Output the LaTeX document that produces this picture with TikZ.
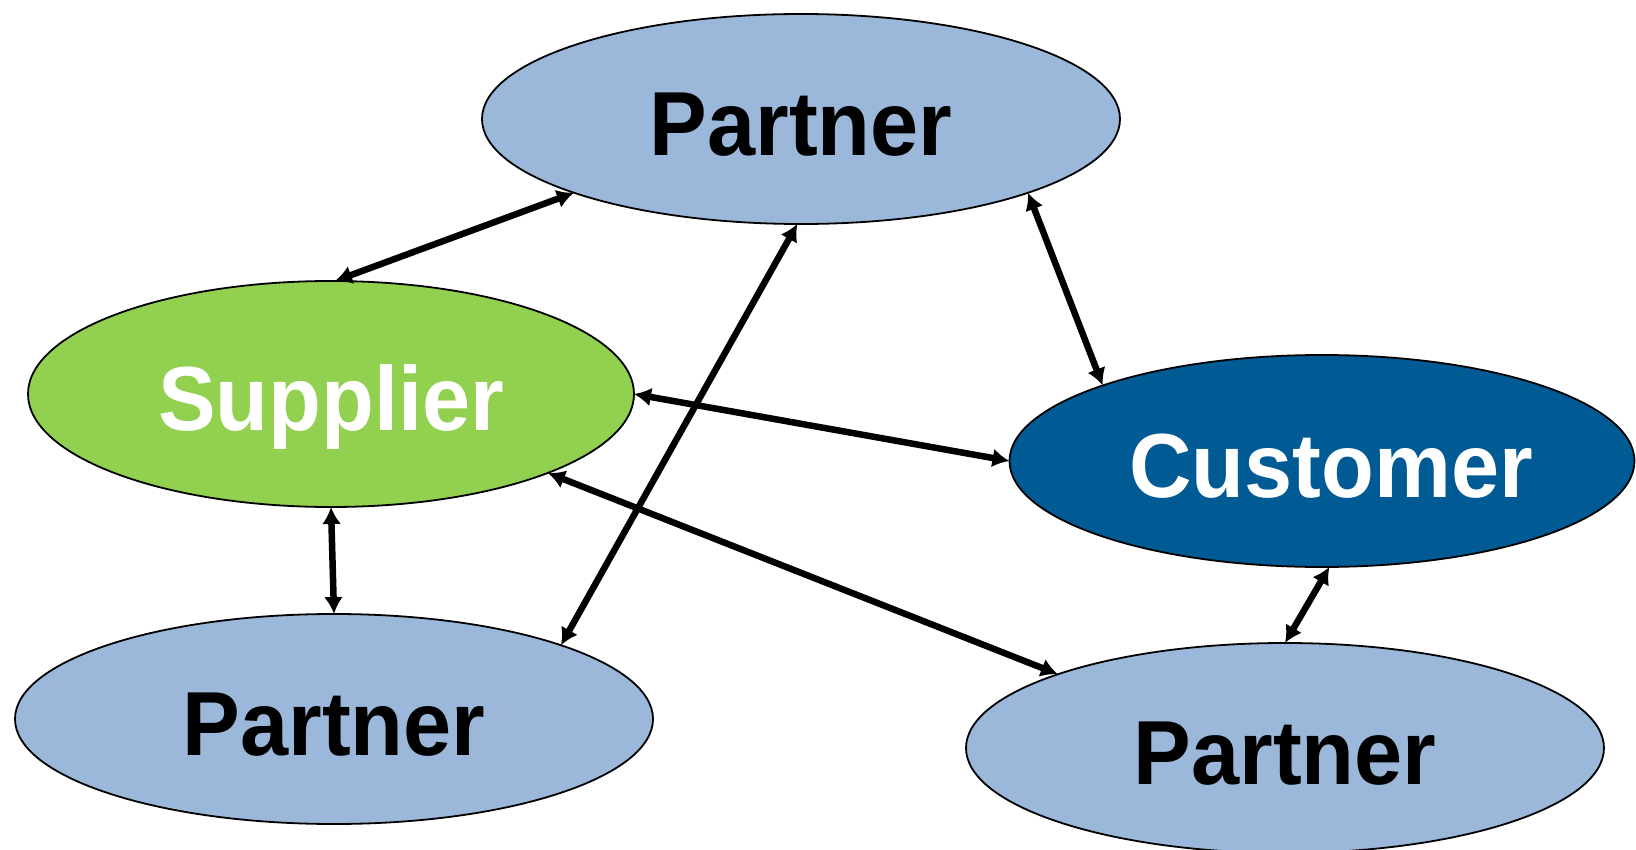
\documentclass[tikz,border=0pt]{standalone}
\usepackage{fontspec}
\setmainfont{Liberation Sans}[FakeStretch=0.95]
\usetikzlibrary{arrows.meta,shapes.geometric}

\definecolor{partnerblue}{HTML}{9BB7D9}
\definecolor{suppliergreen}{HTML}{92D050}
\definecolor{customerblue}{HTML}{005A94}

\begin{document}
\begin{tikzpicture}[x=1pt, y=-1pt,
        party/.style={ellipse, draw=black, line width=1.8pt, inner sep=0pt, outer sep=0pt,
            font=\bfseries\fontsize{91}{91}\selectfont, text height=73pt, text depth=0pt},
        partner/.style={party, fill=partnerblue, text=black, minimum width=638pt, minimum height=210pt},
        link/.style={line width=6.5pt, {Latex[length=17pt,width=19pt]}-{Latex[length=17pt,width=19pt]}}]
        \useasboundingbox (0,0) rectangle (1636,850);

        % Ellipses for supplier, customer and the partners
        \node[partner] (toppartner) at (801,119) {Partner};
        \node[party, fill=suppliergreen, text=white, minimum width=606pt, minimum height=226pt] (supplier) at (331,394) {Supplier};
        \node[party, fill=customerblue, text=white, minimum width=625pt, minimum height=212pt] (customer) at (1322,461) {\hspace{18pt}Customer};
        \node[partner] (leftpartner) at (334,719) {Partner};
        \node[partner] (rightpartner) at (1285,748) {Partner};

        % Links from the top partner
        \draw[link] (supplier.88) -- (toppartner.198);
        \draw[link] (toppartner.268) -- (leftpartner.18);
        \draw[link] (toppartner.342) -- (customer.161);

        % Links from the supplier
        \draw[link] (supplier.east) -- (customer.west);
        \draw[link] (supplier.340) -- (rightpartner.162);
        \draw[link] (supplier.south) -- (leftpartner.north);

        % Link between customer and right partner
        \draw[link] (customer.274) -- (rightpartner.north);
    \end{tikzpicture}
\end{document}
